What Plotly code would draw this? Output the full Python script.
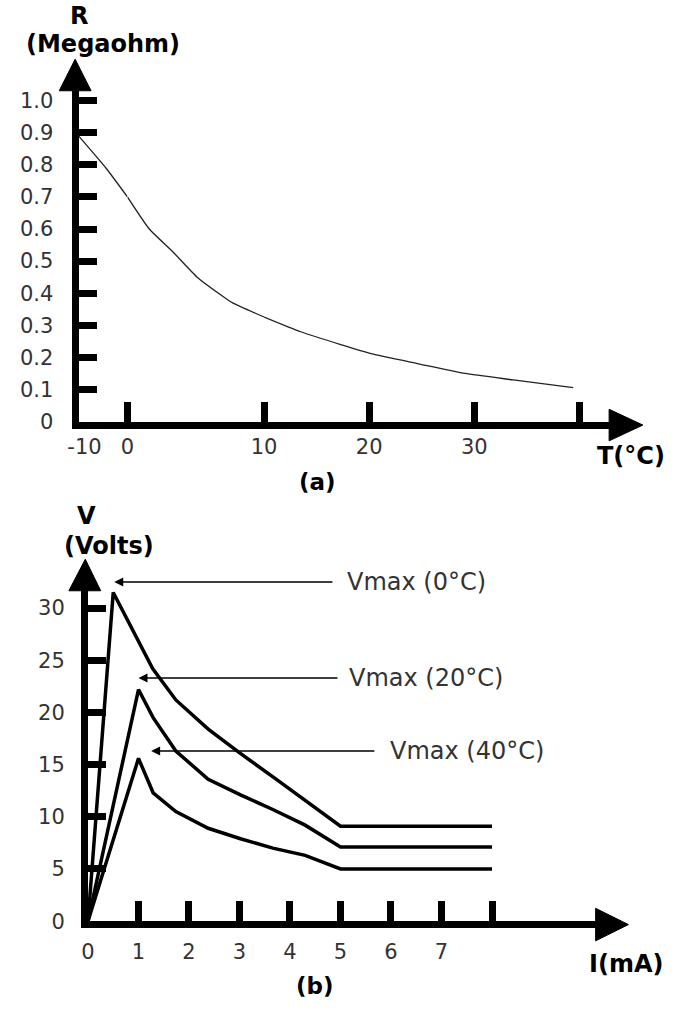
import plotly.graph_objects as go

W, H = 680, 1015

# ---------------- Chart (a): thermistor resistance vs temperature ----------------
temp_c = [-10, -4.4, 0, 1.6, 3.3, 5.1, 7.0, 7.7, 10, 13.5, 17.3, 20.4, 24.7, 29.1, 33.7, 39.4]
res_mohm = [0.89, 0.79, 0.70, 0.60, 0.53, 0.45, 0.39, 0.37, 0.326, 0.28, 0.24, 0.21, 0.18, 0.15, 0.13, 0.106]

a_y_ticks = [0, 0.1, 0.2, 0.3, 0.4, 0.5, 0.6, 0.7, 0.8, 0.9, 1.0]
a_y_ticktext = ["0", "0.1", "0.2", "0.3", "0.4", "0.5", "0.6", "0.7", "0.8", "0.9", "1.0"]
# the drawing's temperature axis is piecewise (broken): -10..0, 0..10, 10..
a_x_ticks_1 = [-10]
a_x_ticktext_1 = ["-10"]
a_x_ticks_2 = [0, 10]
a_x_ticktext_2 = ["0", "10"]
a_x_ticks_3 = [20, 30, 40]
a_x_ticktext_3 = ["20", "30", ""]

# ---------------- Chart (b): V-I characteristics ----------------
curve_names = ["0°C", "20°C", "40°C"]
i_0c = [0, 0.5, 1.28, 1.74, 2.38, 3.01, 3.67, 4.30, 5.0, 8.0]
v_0c = [0, 31.5, 24.2, 21.2, 18.4, 16.1, 13.8, 11.6, 9.1, 9.1]
i_20c = [0, 1.0, 1.29, 1.74, 2.38, 3.02, 3.66, 4.30, 5.0, 8.0]
v_20c = [0, 22.2, 19.5, 16.3, 13.6, 12.1, 10.7, 9.2, 7.1, 7.1]
i_40c = [0, 1.0, 1.29, 1.74, 2.38, 3.02, 3.66, 4.30, 5.0, 8.0]
v_40c = [0, 15.6, 12.3, 10.5, 8.9, 7.9, 7.0, 6.3, 5.0, 5.0]

b_y_ticks = [0, 5, 10, 15, 20, 25, 30]
b_y_ticktext = ["0", "5", "10", "15", "20", "25", "30"]
b_x_ticks = [0, 1, 2, 3, 4, 5, 6, 7, 8]
b_x_ticktext = ["0", "1", "2", "3", "4", "5", "6", "7", ""]

vmax_labels = ["Vmax (0°C)", "Vmax (20°C)", "Vmax (40°C)"]
vmax_tip_i = [0.52, 1.0, 1.25]
vmax_tip_v = [32.5, 23.3, 16.3]
vmax_tail_i = [4.87, 4.97, 5.70]
vmax_text_i = [5.08, 5.12, 5.94]


def px(x):
    return x / W


def py(y):
    return 1 - y / H


FAMILY = "DejaVu Sans, Verdana, sans-serif"
TICK_FONT = dict(family=FAMILY, size=21, color="#333333")

fig = go.Figure()

# chart (a) curve, split over the three pieces of the broken temperature axis
pieces = [("x", lambda t: t <= 0), ("x2", lambda t: 0 <= t <= 10), ("x4", lambda t: t >= 10)]
for xa, keep in pieces:
    pts = [(t, r) for t, r in zip(temp_c, res_mohm) if keep(t)]
    fig.add_trace(go.Scatter(x=[p[0] for p in pts], y=[p[1] for p in pts], xaxis=xa, yaxis="y",
                             mode="lines", line=dict(color="#222222", width=1.3, shape="spline", smoothing=0.5),
                             showlegend=False, hoverinfo="skip"))

for ix, vy in [(i_0c, v_0c), (i_20c, v_20c), (i_40c, v_40c)]:
    fig.add_trace(go.Scatter(x=ix, y=vy, xaxis="x3", yaxis="y3", mode="lines",
                             line=dict(color="#000000", width=3.5),
                             showlegend=False, hoverinfo="skip"))

axis_common = dict(showline=True, linewidth=7, linecolor="black", ticks="inside",
                   tickwidth=7, tickcolor="black", showgrid=False, zeroline=False,
                   tickfont=TICK_FONT, fixedrange=True)

a_y_bottom, a_y_top = 425.5, 90
a_px_per_unit = 325.5
b_y_bottom, b_y_top = 932, 588
b_px_per_volt = 10.58
b_x_left, b_x_right = 79.8, 610
b_px_per_ma = 52.35

# pixel positions of the temperature ticks -10, 0, 10 and of the axis end in the drawing
a_x_m10, a_x_0, a_x_10, a_x_end = 70, 120.7, 262.3, 625
a_px_per_deg_mid = (a_x_10 - a_x_0) / 10
a_px_per_deg_hi = (589.3 - a_x_10) / 30
pad = 3  # tick-only axis reaches a little past 0 and 10 so their tick marks are drawn

fig.update_layout(
    width=W, height=H, margin=dict(l=0, r=0, t=0, b=0),
    paper_bgcolor="white", plot_bgcolor="rgba(0,0,0,0)",
    xaxis=dict(axis_common, domain=[px(a_x_m10), px(a_x_0)], range=[-10, 0], anchor="y",
               tickvals=a_x_ticks_1, ticktext=a_x_ticktext_1, ticklen=20,
               tickcolor="rgba(0,0,0,0)", ticklabelshift=6),
    xaxis2=dict(axis_common, domain=[px(a_x_0), px(a_x_10)], range=[0, 10], anchor="y",
                tickvals=a_x_ticks_2, ticktext=a_x_ticktext_2, ticklen=20,
                tickcolor="rgba(0,0,0,0)"),
    xaxis5=dict(axis_common, domain=[px(a_x_0 - pad), px(a_x_10 + pad)],
                range=[-pad / a_px_per_deg_mid, 10 + pad / a_px_per_deg_mid], anchor="y",
                tickvals=a_x_ticks_2, ticklen=20, showticklabels=False),
    xaxis4=dict(axis_common, domain=[px(a_x_10), px(a_x_end)],
                range=[10, 10 + (a_x_end - a_x_10) / a_px_per_deg_hi], anchor="y",
                tickvals=a_x_ticks_3, ticktext=a_x_ticktext_3, ticklen=20),
    yaxis=dict(axis_common, domain=[py(a_y_bottom), py(a_y_top)],
               range=[0, (a_y_bottom - a_y_top) / a_px_per_unit], anchor="x",
               tickvals=a_y_ticks, ticktext=a_y_ticktext, ticklen=18, ticklabelstandoff=14),
    xaxis3=dict(axis_common, domain=[px(b_x_left), px(b_x_right)],
                range=[0, (b_x_right - b_x_left) / b_px_per_ma], anchor="y3",
                tickvals=b_x_ticks, ticktext=b_x_ticktext, ticklen=20, ticklabelstandoff=6),
    yaxis3=dict(axis_common, domain=[py(b_y_bottom), py(b_y_top)],
                range=[0, (b_y_bottom - b_y_top) / b_px_per_volt], anchor="x3",
                tickvals=b_y_ticks, ticktext=b_y_ticktext, ticklen=18, ticklabelstandoff=12),
)

# an invisible point puts the tick-only axis on the page
fig.add_trace(go.Scatter(x=[5], y=[0.5], xaxis="x5", yaxis="y", mode="markers",
                         marker=dict(opacity=0), showlegend=False, hoverinfo="skip"))


def tri(points):
    d = "M " + " L ".join(f"{px(x):.5f},{py(y):.5f}" for x, y in points) + " Z"
    return dict(type="path", xref="paper", yref="paper", path=d,
                fillcolor="black", line=dict(color="black", width=1), layer="above")


fig.update_layout(shapes=[
    tri([(50, 90), (66.5, 58), (83, 90)]),
    tri([(620, 413), (655, 429), (620, 445)]),
    tri([(60, 597), (77, 565), (93, 597)]),
    tri([(606, 919), (640, 935.5), (606, 952)]),
])

ann = []


def label(text, x, y, size=24):
    ann.append(dict(text=f"<b>{text}</b>", x=px(x), y=py(y), xref="paper", yref="paper",
                    showarrow=False, xanchor="center", yanchor="middle",
                    font=dict(family=FAMILY, size=size, color="#000000")))


label("R", 70, 14)
label("(Megaohm)", 95.5, 43)
label("T(°C)", 643, 460)
label("(a)", 318, 487, size=23)
label("V", 78, 521)
label("(Volts)", 102, 552)
label("I(mA)", 638, 975)
label("(b)", 315, 998, size=23)

for txt, ti, tv, tail, tx in zip(vmax_labels, vmax_tip_i, vmax_tip_v, vmax_tail_i, vmax_text_i):
    ann.append(dict(text="", x=ti, y=tv, xref="x3", yref="y3", ax=tail, ay=tv, axref="x3", ayref="y3",
                    showarrow=True, arrowhead=2, arrowsize=1.2, arrowwidth=1.5, arrowcolor="black"))
    ann.append(dict(text=txt, x=tx, y=tv, xref="x3", yref="y3", showarrow=False, xanchor="left",
                    yanchor="middle", font=dict(family=FAMILY, size=24, color="#333333")))

fig.update_layout(annotations=ann)

fig.write_html("out.html", config={"displayModeBar": False},
               post_script="document.body.style.margin='0';document.body.style.overflow='hidden';")
